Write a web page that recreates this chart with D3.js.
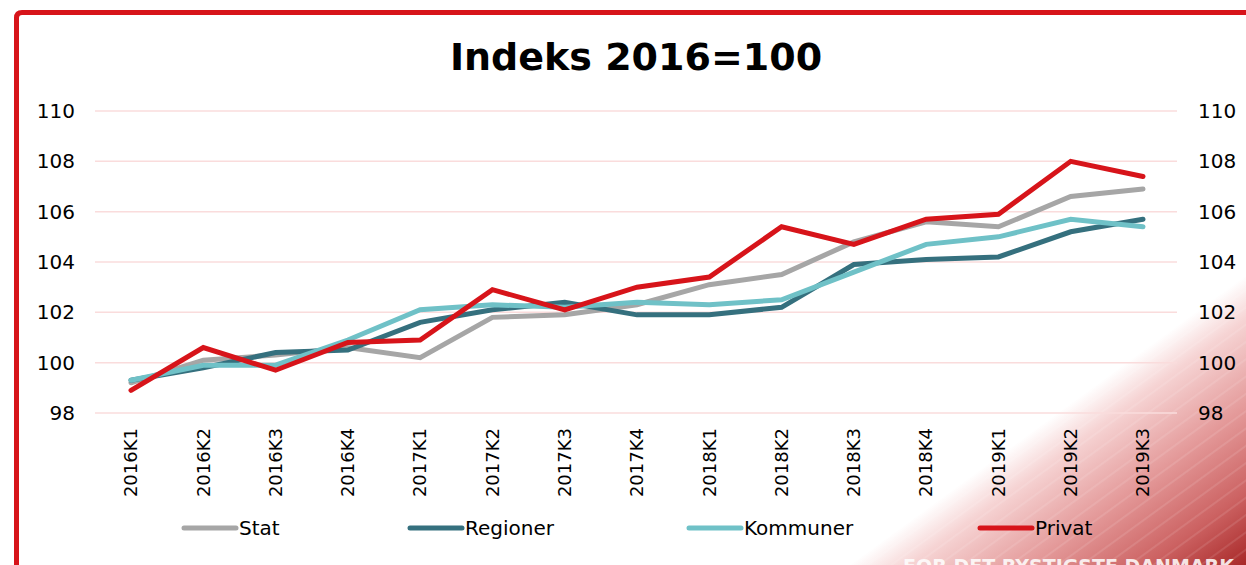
<!DOCTYPE html>
<html>
<head>
<meta charset="utf-8" />
<title>Indeks 2016=100</title>
<style>
  body { margin: 0; background: #fff; }
  text { font-family: "DejaVu Sans", Verdana, sans-serif; fill: #000; }
  .grid line { stroke: #fadcdc; stroke-width: 1.5px; }
  .series { fill: none; stroke-width: 5px; stroke-linecap: round; stroke-linejoin: miter; }
</style>
</head>
<body>
<script src="https://cdn.jsdelivr.net/npm/d3@7"></script>
<script>
var quarters = ["2016K1","2016K2","2016K3","2016K4","2017K1","2017K2","2017K3","2017K4",
                "2018K1","2018K2","2018K3","2018K4","2019K1","2019K2","2019K3"];

var stat      = [99.2, 100.1, 100.3, 100.6, 100.2, 101.8, 101.9, 102.3, 103.1, 103.5, 104.8, 105.6, 105.4, 106.6, 106.9];
var regioner  = [99.3,  99.8, 100.4, 100.5, 101.6, 102.1, 102.4, 101.9, 101.9, 102.2, 103.9, 104.1, 104.2, 105.2, 105.7];
var kommuner  = [99.3,  99.9,  99.9, 100.9, 102.1, 102.3, 102.2, 102.4, 102.3, 102.5, 103.6, 104.7, 105.0, 105.7, 105.4];
var privat    = [98.9, 100.6,  99.7, 100.8, 100.9, 102.9, 102.1, 103.0, 103.4, 105.4, 104.7, 105.7, 105.9, 108.0, 107.4];

var seriesNames = ["Stat", "Regioner", "Kommuner", "Privat"];
var yTicks = [98, 100, 102, 104, 106, 108, 110];

var colors = ["#a6a6a6", "#35707e", "#6fc1c7", "#d7141a"];
var width = 1246, height = 565;

var svg = d3.select("body").append("svg")
    .attr("width", width)
    .attr("height", height);

var defs = svg.append("defs");

// red corner fade, perpendicular to the diagonal edge
var grad = defs.append("linearGradient")
    .attr("id", "fade")
    .attr("gradientUnits", "userSpaceOnUse")
    .attr("x1", 1108).attr("y1", 376)
    .attr("x2", 1246).attr("y2", 565);
grad.append("stop").attr("offset", 0).attr("stop-color", "#ffffff");
grad.append("stop").attr("offset", 0.15).attr("stop-color", "#f6d4d4");
grad.append("stop").attr("offset", 0.45).attr("stop-color", "#e49a9a");
grad.append("stop").attr("offset", 0.75).attr("stop-color", "#cc6262");
grad.append("stop").attr("offset", 1).attr("stop-color", "#a82828");

var stripes = defs.append("pattern")
    .attr("id", "stripes")
    .attr("patternUnits", "userSpaceOnUse")
    .attr("width", 14).attr("height", 14)
    .attr("patternTransform", "rotate(-36)");
stripes.append("rect").attr("width", 14).attr("height", 2).attr("fill", "#ffffff").attr("opacity", 0.1);

var corner = [[850, 565], [1246, 275], [1246, 565]];
svg.append("polygon")
    .attr("points", corner.join(" "))
    .attr("fill", "url(#fade)");
svg.append("polygon")
    .attr("points", corner.join(" "))
    .attr("fill", "url(#stripes)");

svg.append("text")
    .attr("x", 903).attr("y", 573)
    .style("font-weight", "bold")
    .style("font-size", "19px")
    .style("fill", "#ffffff")
    .style("opacity", 0.85)
    .text("FOR DET RYSTIGSTE DANMARK");

// frame
svg.append("path")
    .attr("d", "M16.5,570 L16.5,18 Q16.5,12.5 22,12.5 L1250,12.5")
    .attr("fill", "none")
    .attr("stroke", "#d7141a")
    .attr("stroke-width", 5);

var x = d3.scalePoint().domain(quarters).range([131, 1143]);
var y = d3.scaleLinear().domain([98, 110]).range([413, 111]);

svg.append("g").attr("class", "grid")
  .selectAll("line").data(yTicks).enter().append("line")
    .attr("x1", 95).attr("x2", 1177)
    .attr("y1", function(d) { return y(d); })
    .attr("y2", function(d) { return y(d); });

// y axes both sides
var yl = svg.append("g").attr("transform", "translate(75,0)")
    .call(d3.axisLeft(y).tickValues(yTicks).tickSize(0).tickPadding(0));
var yr = svg.append("g").attr("transform", "translate(1198,0)")
    .call(d3.axisRight(y).tickValues(yTicks).tickSize(0).tickPadding(0));
[yl, yr].forEach(function(a) {
  a.select(".domain").remove();
  a.selectAll("text").style("font-size", "20px").style("font-family", "DejaVu Sans, sans-serif").attr("fill", "#000");
});

// x labels rotated
var xa = svg.append("g")
    .call(d3.axisBottom(x).tickSize(0).tickPadding(0));
xa.select(".domain").remove();
xa.selectAll(".tick").attr("transform", function(d) { return "translate(" + x(d) + ",428)"; });
xa.selectAll("text")
    .style("font-size", "18px")
    .style("font-family", "DejaVu Sans, sans-serif")
    .attr("fill", "#000")
    .attr("text-anchor", "end")
    .attr("dy", "0.35em")
    .attr("transform", "rotate(-90)")
    .attr("x", 0)
    .attr("y", 0);

var allSeries = [stat, regioner, kommuner, privat];
var line = d3.line()
    .x(function(d, i) { return x(quarters[i]); })
    .y(function(d) { return y(d); });

svg.append("g").selectAll("path").data(allSeries).enter().append("path")
    .attr("class", "series")
    .attr("stroke", function(d, i) { return colors[i]; })
    .attr("d", line);

// legend
var legendX = [182, 408, 687, 978];
var lg = svg.append("g").selectAll("g").data(seriesNames).enter().append("g")
    .attr("transform", function(d, i) { return "translate(" + legendX[i] + ",528)"; });
lg.append("line")
    .attr("x1", 2).attr("x2", 54)
    .attr("stroke", function(d, i) { return colors[i]; })
    .attr("stroke-width", 5)
    .attr("stroke-linecap", "round");
lg.append("text")
    .attr("x", 57).attr("dy", "0.35em")
    .style("font-size", "20px")
    .text(function(d) { return d; });

svg.append("text")
    .attr("x", 636).attr("y", 70)
    .attr("text-anchor", "middle")
    .style("font-weight", "bold")
    .style("font-size", "38px")
    .text("Indeks 2016=100");
</script>
</body>
</html>
